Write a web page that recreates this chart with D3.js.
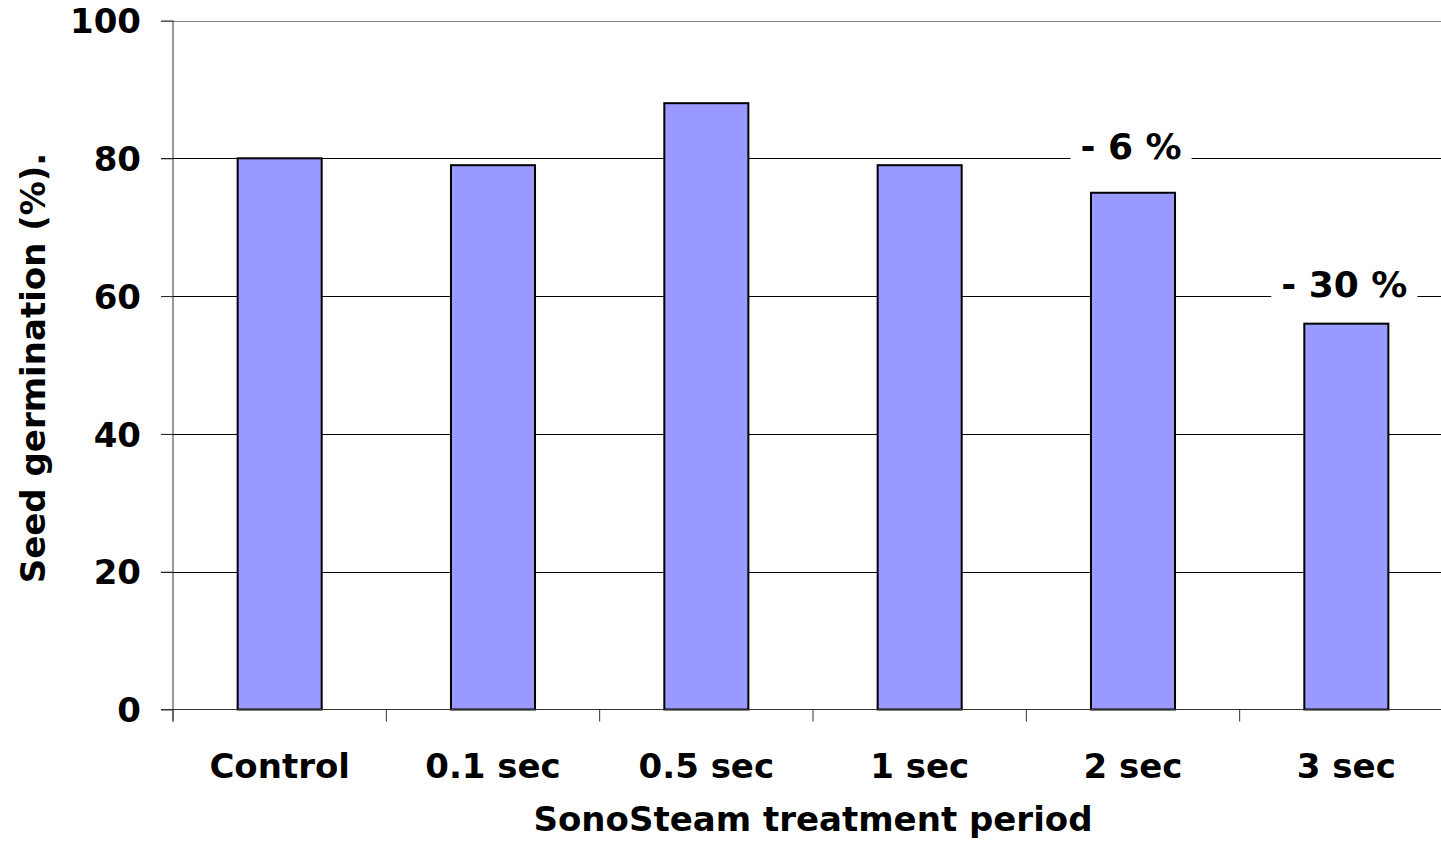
<!DOCTYPE html>
<html><head><meta charset="utf-8">
<script src="https://cdn.jsdelivr.net/npm/d3@7"></script>
<style>body{margin:0;background:#fff}svg{display:block}text{font-family:"DejaVu Sans",Verdana,sans-serif;font-weight:bold;fill:#000}</style>
</head><body>
<svg id="chart" width="1441" height="843"></svg>
<script>
const categories = ["Control","0.1 sec","0.5 sec","1 sec","2 sec","3 sec"];
const germination = [80,79,88,79,75,56];
const yTicks = [0,20,40,60,80,100];
const annotations = [{cat:"2 sec", text:"- 6 %", value:80},{cat:"3 sec", text:"- 30 %", value:60}];

const svg = d3.select("#chart");
const mLeft = 173, mRight = 1453, mTop = 20.5, mBottom = 709.5;
const x = d3.scaleBand().domain(categories).range([mLeft,mRight]).paddingInner(0.606).paddingOuter(0.303);
const y = d3.scaleLinear().domain([0,100]).range([mBottom,mTop]);

// gridlines
svg.append("g").selectAll("line").data(yTicks.filter(d=>d>0)).join("line")
  .attr("x1",mLeft-12).attr("x2",1441).attr("y1",d=>Math.round(y(d))+0.5).attr("y2",d=>Math.round(y(d))+0.5)
  .attr("stroke",d=>d===100?"#808080":"#000").attr("stroke-width",1);

// bars
svg.append("g").selectAll("rect").data(categories).join("rect")
  .attr("x",d=>x(d)).attr("width",x.bandwidth())
  .attr("y",(d,i)=>y(germination[i])).attr("height",(d,i)=>mBottom-y(germination[i]))
  .attr("fill","#9999FF").attr("stroke","#000").attr("stroke-width",2);

// y axis
const yAxis = svg.append("g").attr("transform",`translate(${mLeft},0)`)
  .call(d3.axisLeft(y).tickValues(yTicks).tickSize(12).tickPadding(20));
yAxis.select(".domain").attr("stroke","#333").attr("d",`M0,${mTop}V${mBottom+12}`);
yAxis.selectAll(".tick line").attr("stroke","#333");
yAxis.selectAll("text").style("font-size","34px").attr("dy","0.36em");

// x axis
const xAxis = svg.append("g").attr("transform",`translate(0,${mBottom})`)
  .call(d3.axisBottom(x).tickSize(0).tickPadding(44));
xAxis.select(".domain").attr("stroke","#333").attr("d",`M${mLeft-12},0H1441`);
xAxis.selectAll(".tick text").style("font-size","34px").attr("dy","0.71em");
const bounds = categories.map(c=>x(c)-x.step()*x.paddingInner()/2);
svg.append("g").selectAll("line").data(bounds.concat([mRight])).join("line")
  .attr("x1",d=>d).attr("x2",d=>d).attr("y1",mBottom).attr("y2",mBottom+12).attr("stroke","#333");

// annotations
const annG = svg.append("g");
annotations.forEach(a=>{
  const cx = x(a.cat)+x.bandwidth()/2 - 2;
  const g = annG.append("g");
  const bg = g.append("rect").attr("fill","#fff");
  const t = g.append("text").attr("x",cx).attr("y",y(a.value)+1).attr("text-anchor","middle")
    .style("font-size","36px").attr("xml:space","preserve").text(a.text);
  const bb = t.node().getBBox();
  bg.attr("x",bb.x-10).attr("y",bb.y).attr("width",bb.width+20).attr("height",bb.height);
});

// titles
svg.append("text").attr("transform",`translate(45,368) rotate(-90)`).attr("text-anchor","middle")
  .style("font-size","34px").text("Seed germination (%).");
svg.append("text").attr("x",813).attr("y",831).attr("text-anchor","middle").style("font-size","34px").text("SonoSteam treatment period");
</script>
</body></html>
